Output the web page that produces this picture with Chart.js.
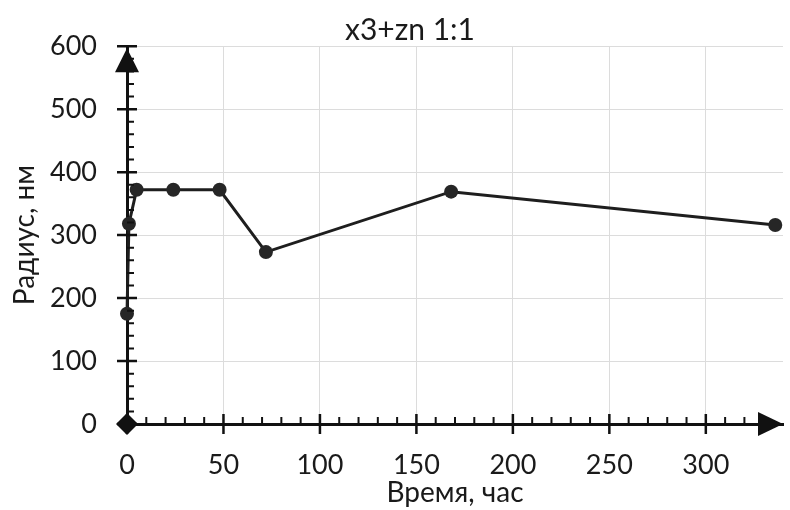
<!DOCTYPE html>
<html>
<head>
<meta charset="utf-8">
<script src="https://cdn.jsdelivr.net/npm/chart.js@4.4.1/dist/chart.umd.min.js"></script>
<style>
  body { margin: 0; background: #fff; }
  #wrap { width: 790px; height: 510px; }
</style>
</head>
<body>
<div id="wrap"><canvas id="myChart"></canvas></div>
<script>
// time in hours and particle radius in nm
var hours  = [0, 1, 5, 24, 48, 72, 168, 336];
var radius = [175, 318, 372, 372, 372, 273, 369, 316];

var xTicks = [0, 50, 100, 150, 200, 250, 300];
var yTicks = [0, 100, 200, 300, 400, 500, 600];

var titleText = 'x3+zn 1:1';
var xTitle = 'Время, час';
var yTitle = 'Радиус, нм';

var points = hours.map(function (h, i) { return { x: h, y: radius[i] }; });

// arrows, diamond at origin, crossing major ticks and small minor ticks
const axisDecor = {
  id: 'axisDecor',
  afterDraw(chart) {
    const c = chart.ctx;
    const xs = chart.scales.x, ys = chart.scales.y;
    const x0 = xs.getPixelForValue(0), y0 = ys.getPixelForValue(0);
    c.save();
    c.strokeStyle = '#111';
    c.fillStyle = '#111';

    // minor ticks
    c.lineWidth = 2;
    c.beginPath();
    for (let v = 10; v < 340; v += 10) {
      if (v % 50 === 0) continue;
      const px = xs.getPixelForValue(v);
      c.moveTo(px, y0); c.lineTo(px, y0 - 7);
    }
    for (let v = 20; v < 600; v += 20) {
      if (v % 100 === 0) continue;
      const py = ys.getPixelForValue(v);
      c.moveTo(x0, py); c.lineTo(x0 + 7, py);
    }
    c.stroke();

    // major ticks cross the axis
    c.lineWidth = 2.5;
    c.beginPath();
    xTicks.forEach(function (v) {
      const px = xs.getPixelForValue(v);
      c.moveTo(px, y0 - 10); c.lineTo(px, y0 + 10);
    });
    yTicks.forEach(function (v) {
      const py = ys.getPixelForValue(v);
      c.moveTo(x0 - 10, py); c.lineTo(x0 + 10, py);
    });
    c.stroke();

    // arrow heads
    const top = ys.getPixelForValue(600);
    c.beginPath();
    c.moveTo(x0, top + 2);
    c.lineTo(x0 - 12, top + 26);
    c.lineTo(x0 + 12, top + 26);
    c.closePath();
    c.fill();

    const right = chart.chartArea.right;
    c.beginPath();
    c.moveTo(right, y0);
    c.lineTo(right - 25, y0 - 12);
    c.lineTo(right - 25, y0 + 12);
    c.closePath();
    c.fill();

    // diamond at origin
    c.beginPath();
    c.moveTo(x0, y0 - 11);
    c.lineTo(x0 + 11, y0);
    c.lineTo(x0, y0 + 11);
    c.lineTo(x0 - 11, y0);
    c.closePath();
    c.fill();

    // title
    c.fillStyle = '#1a1a1a';
    c.font = '30px Lato';
    c.textAlign = 'center';
    c.textBaseline = 'middle';
    c.fillText(titleText, 410, 30);
    c.restore();
  }
};

const ctx = document.getElementById('myChart').getContext('2d');
const myChart = new Chart(ctx, {
  type: 'scatter',
  data: {
    datasets: [{
      data: points,
      showLine: true,
      borderColor: '#1e1e1e',
      borderWidth: 3,
      backgroundColor: '#262626',
      pointRadius: 7,
      pointBorderWidth: 0,
      clip: false
    }]
  },
  options: {
    responsive: true,
    maintainAspectRatio: false,
    animation: false,
    layout: { padding: { top: 45, right: 4, left: 0, bottom: 0 } },
    plugins: { legend: { display: false }, tooltip: { enabled: false } },
    scales: {
      x: {
        type: 'linear',
        min: 0,
        max: 340,
        afterBuildTicks: function (s) { s.ticks = xTicks.map(function (v) { return { value: v }; }); },
        afterFit: function (s) { s.height = 86; },
        grid: { color: '#dcdcdc', lineWidth: 1, drawTicks: false },
        border: { color: '#111', width: 3 },
        ticks: { color: '#1a1a1a', font: { family: 'Lato', size: 27 }, padding: 25, maxRotation: 0 },
        title: { display: true, text: xTitle, color: '#1a1a1a', font: { family: 'Lato', size: 28 }, padding: { top: 0, bottom: 0 } }
      },
      y: {
        min: 0,
        max: 600,
        afterBuildTicks: function (s) { s.ticks = yTicks.map(function (v) { return { value: v }; }); },
        afterFit: function (s) { s.width = 127; },
        grid: { color: '#dcdcdc', lineWidth: 1, drawTicks: false },
        border: { color: '#111', width: 3 },
        ticks: { color: '#1a1a1a', font: { family: 'Lato', size: 27 }, padding: 30 },
        title: { display: true, text: yTitle, color: '#1a1a1a', font: { family: 'Lato', size: 28 }, padding: { top: 8, bottom: 0 } }
      }
    }
  },
  plugins: [axisDecor]
});
</script>
</body>
</html>
